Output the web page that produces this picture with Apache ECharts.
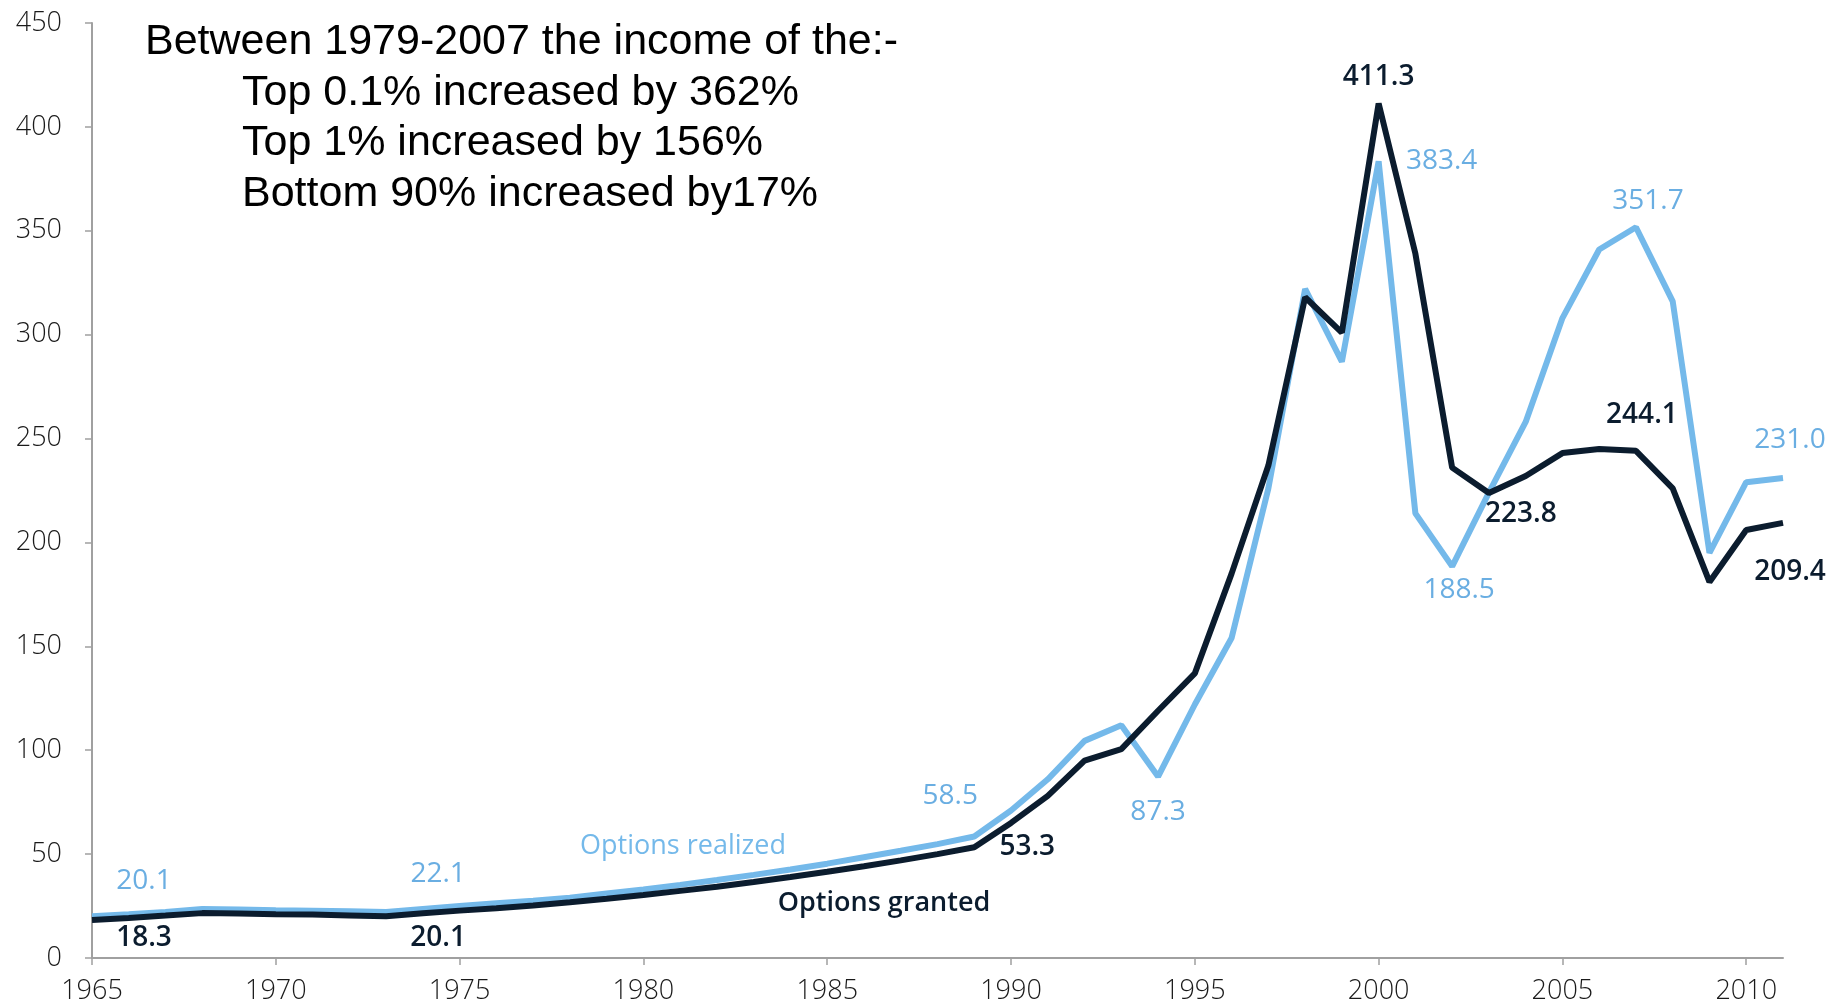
<!DOCTYPE html>
<html>
<head>
<meta charset="utf-8">
<script src="https://cdn.jsdelivr.net/npm/echarts@6/dist/echarts.min.js"></script>
<style>
    html, body { margin: 0; padding: 0; background: #fff; }
    #main { width: 1843px; height: 1008px; }
</style>
</head>
<body>
<div id="main"></div>
<script>
    // years on the x axis
    const years = [1965, 1966, 1967, 1968, 1969, 1970, 1971, 1972, 1973, 1974,
        1975, 1976, 1977, 1978, 1979, 1980, 1981, 1982, 1983, 1984,
        1985, 1986, 1987, 1988, 1989, 1990, 1991, 1992, 1993, 1994,
        1995, 1996, 1997, 1998, 1999, 2000, 2001, 2002, 2003, 2004,
        2005, 2006, 2007, 2008, 2009, 2010, 2011];

    // options realized (light blue)
    const realized = [20.1, 21.0, 22.2, 23.6, 23.3, 23.0, 22.8, 22.5, 22.1, 23.6,
        25.0, 26.3, 27.6, 29.0, 31.0, 33.0, 35.2, 37.5, 40.0, 42.6,
        45.4, 48.5, 51.6, 54.8, 58.5, 71.0, 86.0, 104.5, 112.0, 87.3,
        122.0, 154.0, 226.0, 322.0, 287.0, 383.4, 214.0, 188.5, 224.0, 258.0,
        308.0, 341.0, 351.7, 316.0, 195.0, 229.0, 231.0];

    // options granted (dark navy)
    const granted = [18.3, 19.3, 20.4, 21.6, 21.4, 21.1, 20.9, 20.5, 20.1, 21.5,
        22.8, 24.0, 25.3, 26.8, 28.5, 30.3, 32.3, 34.3, 36.6, 39.0,
        41.5, 44.2, 47.0, 50.0, 53.3, 65.0, 78.0, 95.0, 100.5, 119.0,
        137.0, 185.0, 237.0, 318.0, 301.0, 411.3, 339.0, 236.0, 223.8, 232.0,
        243.0, 245.0, 244.1, 226.0, 181.0, 206.0, 209.4];

    const xTicks = [1965, 1970, 1975, 1980, 1985, 1990, 1995, 2000, 2005, 2010];

    // which years get a value label, and where the label sits (px offset)
    const realizedLabels = { 1965: [52, -35], 1973: [52, -38], 1989: [-24, -40], 1994: [0, 35],
        2000: [63, 0], 2002: [7, 24], 2007: [12, -26], 2011: [7, -38] };
    const grantedLabels = { 1965: [52, 18], 1973: [52, 22], 1989: [53, 0], 2000: [0, -26],
        2003: [32, 21], 2007: [6, -36], 2011: [7, 49] };

    const lightBlue = '#74b9ea';
    const darkNavy = '#0b1c2e';
    const labelFont = '"Open Sans", "Noto Sans", sans-serif';
    const noteFont = '43px "Liberation Sans", Arial, sans-serif';

    function buildData(values, labels, color, weight) {
        return years.map(function (y, i) {
            let item = { value: [y, values[i]] };
            if (labels[y]) {
                item.label = {
                    show: true,
                    position: 'inside',
                    offset: labels[y],
                    formatter: values[i].toFixed(1),
                    color: color,
                    fontSize: 28,
                    fontWeight: weight,
                    fontFamily: labelFont
                };
            }
            return item;
        });
    }

    let myChart = echarts.init(document.getElementById('main'));

    let option = {
        backgroundColor: '#fff',
        animation: false,
        grid: { left: 92, right: 60, top: 23, bottom: 50 },
        xAxis: {
            type: 'value',
            min: 1965,
            max: 2011,
            interval: 5,
            axisLine: { show: true, lineStyle: { color: '#a0a0a0', width: 2 } },
            axisTick: { show: true, length: 7, lineStyle: { color: '#a0a0a0', width: 1.5 }, customValues: xTicks },
            axisLabel: {
                customValues: xTicks,
                formatter: function (v) { return String(v); },
                margin: 20,
                color: '#1a1a1a',
                fontSize: 27,
                fontFamily: labelFont,
                fontWeight: 300
            },
            splitLine: { show: false }
        },
        yAxis: {
            type: 'value',
            min: 0,
            max: 450,
            interval: 50,
            axisLine: { show: true, lineStyle: { color: '#a0a0a0', width: 2 } },
            axisTick: { show: true, length: 7, lineStyle: { color: '#a0a0a0', width: 1.5 } },
            axisLabel: {
                margin: 30,
                color: '#1a1a1a',
                fontSize: 27,
                fontFamily: labelFont,
                fontWeight: 300
            },
            splitLine: { show: false }
        },
        graphic: [
            { type: 'text', x: 145, y: 42, style: { text: 'Between 1979-2007 the income of the:-', fill: '#000', font: noteFont, verticalAlign: 'middle' } },
            { type: 'text', x: 242, y: 93, style: { text: 'Top 0.1% increased by 362%', fill: '#000', font: noteFont, verticalAlign: 'middle' } },
            { type: 'text', x: 242, y: 143, style: { text: 'Top 1% increased by 156%', fill: '#000', font: noteFont, verticalAlign: 'middle' } },
            { type: 'text', x: 242, y: 194, style: { text: 'Bottom 90% increased by17%', fill: '#000', font: noteFont, verticalAlign: 'middle' } },
            { type: 'text', x: 683, y: 846, style: { text: 'Options realized', fill: lightBlue, font: '27px "Open Sans", sans-serif', align: 'center', verticalAlign: 'middle' } },
            { type: 'text', x: 884, y: 903, style: { text: 'Options granted', fill: darkNavy, font: '600 27px "Open Sans", sans-serif', align: 'center', verticalAlign: 'middle' } }
        ],
        series: [
            {
                name: 'Options realized',
                type: 'line',
                data: buildData(realized, realizedLabels, '#6aaee2', 'normal'),
                symbol: 'circle',
                symbolSize: 0.1,
                showSymbol: true,
                showAllSymbol: true,
                lineStyle: { color: lightBlue, width: 6 },
                itemStyle: { color: lightBlue },
                z: 2
            },
            {
                name: 'Options granted',
                type: 'line',
                data: buildData(granted, grantedLabels, darkNavy, 600),
                symbol: 'circle',
                symbolSize: 0.1,
                showSymbol: true,
                showAllSymbol: true,
                lineStyle: { color: darkNavy, width: 6 },
                itemStyle: { color: darkNavy },
                z: 3
            }
        ]
    };
    myChart.setOption(option);
</script>
</body>
</html>
